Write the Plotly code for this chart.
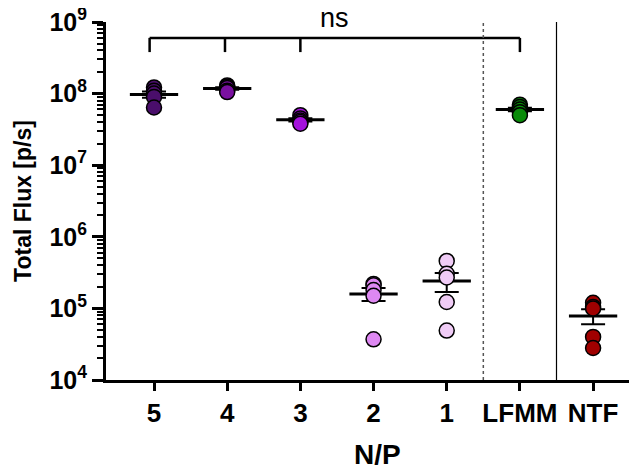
import numpy as np
import plotly.graph_objects as go

categories = ["5", "4", "3", "2", "1", "LFMM", "NTF"]
colors = ["#4A0E6B", "#7A10A0", "#A412DC", "#DE88F2", "#F0CCF6", "#098B09", "#A00000"]
values = {
    "5": [1.22e8, 1.1e8, 1.0e8, 9.0e7, 6.4e7],
    "4": [1.3e8, 1.25e8, 1.2e8, 1.1e8, 1.05e8],
    "3": [5.0e7, 4.5e7, 4.2e7, 4.0e7, 3.8e7],
    "2": [2.2e5, 2.1e5, 1.8e5, 1.5e5, 3.7e4],
    "1": [4.6e5, 3.05e5, 2.7e5, 1.23e5, 4.9e4],
    "LFMM": [7.0e7, 6.5e7, 6.0e7, 5.5e7, 5.0e7],
    "NTF": [1.2e5, 1.05e5, 1.0e5, 4.0e4, 2.8e4],
}
decades = [4, 5, 6, 7, 8, 9]
ytick_vals = [10.0 ** d for d in decades]
ytick_text = ["10<sup>%d</sup>" % d for d in decades]
minor_vals = [k * 10.0 ** d for d in decades[:-1] for k in range(2, 10)]
bracket_groups = ["5", "4", "3", "LFMM"]
bracket_y = 6.0e8
bracket_tick_y = 3.8e8
ns_label = "ns"
x_title = "N/P"
y_title = "Total Flux [p/s]"

FONT = "Liberation Sans, Arial, sans-serif"
fig = go.Figure()
half = 0.33

for i, cat in enumerate(categories):
    v = np.array(values[cat])
    m = v.mean()
    sem = v.std(ddof=1) / np.sqrt(len(v))
    fig.add_trace(go.Scatter(x=[i - half, i + half], y=[m, m], mode="lines",
                             line=dict(color="black", width=3), showlegend=False,
                             hoverinfo="skip"))
    fig.add_trace(go.Scatter(x=[i], y=[m], mode="markers", marker=dict(size=1, opacity=0),
                             error_y=dict(type="data", array=[sem], visible=True,
                                          color="black", thickness=2, width=12),
                             showlegend=False, hoverinfo="skip"))

for i, cat in enumerate(categories):
    v = values[cat]
    fig.add_trace(go.Scatter(x=[i] * len(v), y=v, mode="markers",
                             marker=dict(size=15, color=colors[i],
                                         line=dict(color="black", width=1.5)),
                             name=cat, showlegend=False))

# significance bracket
bx = [categories.index(g) for g in bracket_groups]
fig.add_trace(go.Scatter(x=[bx[0] - 0.06, bx[-1]], y=[bracket_y, bracket_y], mode="lines",
                         line=dict(color="black", width=2.5), showlegend=False,
                         hoverinfo="skip"))
for j, xb in enumerate(bx):
    xo = xb - (0.06 if j == 0 else (0.03 if j == 1 else 0))
    fig.add_trace(go.Scatter(x=[xo, xo], y=[bracket_y, bracket_tick_y], mode="lines",
                             line=dict(color="black", width=2.5), showlegend=False,
                             hoverinfo="skip"))
fig.add_annotation(x=(bx[0] + bx[-1]) / 2 - 0.03, y=1.012, xref="x", yref="paper",
                   text=ns_label, showarrow=False, yanchor="middle",
                   font=dict(family=FONT, size=27, color="black"))

# x-axis title
fig.add_annotation(x=(len(categories) - 1) / 2 + 0.05, y=-0.208, xref="x", yref="paper",
                   text=x_title, showarrow=False, yanchor="middle",
                   font=dict(family=FONT, size=28, color="black", weight="bold"))

# dividers
fig.add_shape(type="line", x0=4.5, x1=4.5, y0=0, y1=1, xref="x", yref="paper",
              line=dict(color="#555555", width=1.5, dash="dot"))
fig.add_shape(type="line", x0=5.5, x1=5.5, y0=0, y1=1, xref="x", yref="paper",
              line=dict(color="black", width=1.2))

# page body adds an 8px offset; figure is sized to compensate
fig.update_layout(
    width=629, height=460,
    margin=dict(l=98, r=0, t=14, b=88),
    plot_bgcolor="white", paper_bgcolor="white",
    font=dict(family=FONT, color="black"),
)
fig.update_xaxes(
    range=[-0.656, 6.6], tickvals=list(range(len(categories))), ticktext=categories,
    showline=True, linecolor="black", linewidth=3, ticks="outside", ticklen=8,
    tickwidth=3, tickcolor="black", showgrid=False, zeroline=False, automargin=False,
    tickfont=dict(family=FONT, size=26, weight="bold"),
)
fig.update_yaxes(
    type="log", range=[4, 9], tickvals=ytick_vals, ticktext=ytick_text,
    showline=True, linecolor="black", linewidth=3, ticks="outside", ticklen=11,
    tickwidth=3, tickcolor="black", showgrid=False, zeroline=False, automargin=False,
    ticklabeloverflow="allow",
    tickfont=dict(family=FONT, size=25, weight="bold"),
    minor=dict(ticks="outside", ticklen=6, tickwidth=2, tickcolor="black",
               tickvals=minor_vals, showgrid=False),
    title=dict(text=y_title, font=dict(family=FONT, size=23, weight="bold"),
               standoff=12),
)
fig.write_html("out.html")
